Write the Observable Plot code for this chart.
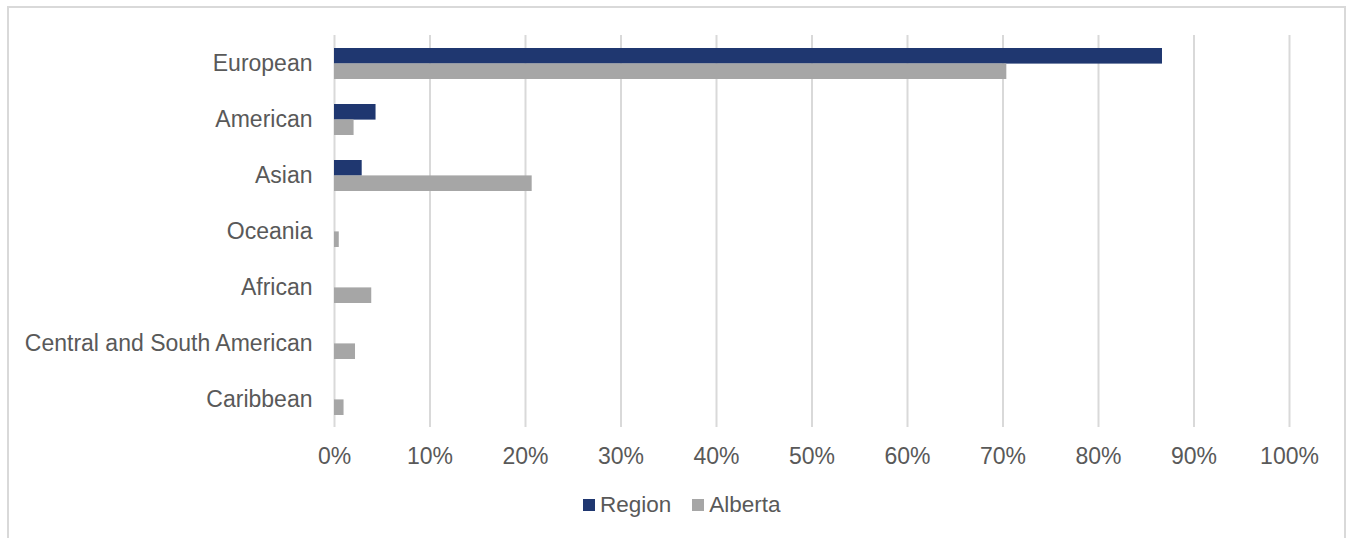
<!DOCTYPE html>
<html>
<head>
<meta charset="utf-8">
<script src="https://cdn.jsdelivr.net/npm/d3@7"></script>
<script src="https://cdn.jsdelivr.net/npm/@observablehq/plot@0.6"></script>
<style>
  html, body { margin: 0; padding: 0; background: #fff; overflow: hidden; }
  body { width: 1346px; height: 538px; position: relative; font-family: "Liberation Sans", Arial, sans-serif; }
  #frame { position: absolute; left: 7px; top: 6px; width: 1335px; height: 620px; border: 2px solid #d9d9d9; box-sizing: content-box; }
  #chart { position: absolute; left: 0; top: 0; }
  #legend { position: absolute; left: 583px; top: 492px; display: flex; align-items: center; font-size: 22.5px; color: #595959; }
  .sw { width: 12px; height: 12px; display: inline-block; margin-right: 5px; }
  .item { display: flex; align-items: center; margin-right: 21px; }
</style>
</head>
<body>
<div id="frame"></div>
<div id="chart"></div>
<div id="legend"></div>
<script>
const categories = ["European", "American", "Asian", "Oceania", "African", "Central and South American", "Caribbean"];
const regionValues = [0.867, 0.0435, 0.029, 0, 0, 0, 0];
const albertaValues = [0.704, 0.0205, 0.207, 0.005, 0.039, 0.022, 0.010];
const seriesNames = ["Region", "Alberta"];
const seriesColors = ["#1f3770", "#a6a6a6"];
const xTicks = [0, 0.1, 0.2, 0.3, 0.4, 0.5, 0.6, 0.7, 0.8, 0.9, 1.0];

const regionData = categories.map((c, i) => ({category: c, value: regionValues[i], series: "Region"}));
const albertaData = categories.map((c, i) => ({category: c, value: albertaValues[i], series: "Alberta"}));

const bandStep = 56;
const bandwidth = bandStep * 0.55;
const half = bandwidth / 2;

const chart = Plot.plot({
  width: 1346,
  height: 480,
  marginLeft: 334,
  marginRight: 57,
  marginTop: 35,
  marginBottom: 53,
  style: {fontFamily: "'Liberation Sans', Arial, sans-serif", fontSize: "23px", color: "#595959", background: "transparent"},
  x: {domain: [0, 1], ticks: xTicks, tickFormat: d3.format(".0%"), tickSize: 0, tickPadding: 20, label: null},
  y: {domain: categories, paddingInner: 0.45, paddingOuter: 0.225, tickSize: 0, tickPadding: 22, label: null},
  color: {domain: seriesNames, range: seriesColors},
  marks: [
    Plot.ruleX(xTicks, {stroke: "#d9d9d9", strokeWidth: 2}),
    Plot.barX(regionData, {x: "value", y: "category", fill: "series", insetBottom: half}),
    Plot.barX(albertaData, {x: "value", y: "category", fill: "series", insetTop: half})
  ]
});
document.getElementById("chart").appendChild(chart);

const legend = document.getElementById("legend");
seriesNames.forEach((name, i) => {
  const item = document.createElement("div");
  item.className = "item";
  const sw = document.createElement("span");
  sw.className = "sw";
  sw.style.background = seriesColors[i];
  const label = document.createElement("span");
  label.textContent = name;
  item.appendChild(sw);
  item.appendChild(label);
  legend.appendChild(item);
});
</script>
</body>
</html>
